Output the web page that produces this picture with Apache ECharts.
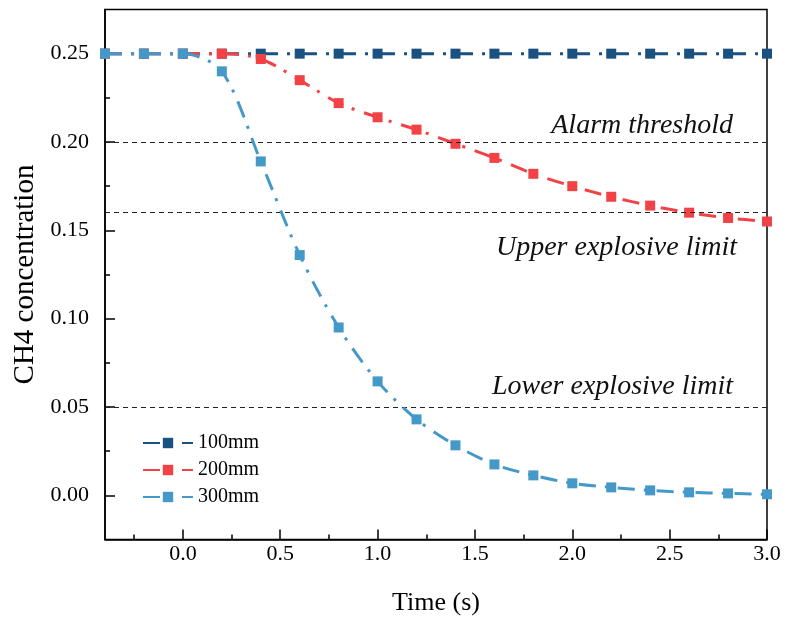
<!DOCTYPE html>
<html><head><meta charset="utf-8">
<script src="https://cdn.jsdelivr.net/npm/echarts@6/dist/echarts.min.js"></script>
<style>html,body{margin:0;padding:0;background:#fff}#c{width:786px;height:623px}</style>
</head><body><div id="c"></div>
<script>
const times = [-0.4,-0.2,0.0,0.2,0.4,0.6,0.8,1.0,1.2,1.4,1.6,1.8,2.0,2.2,2.4,2.6,2.8,3.0];
const s100 = [0.25,0.25,0.25,0.25,0.25,0.25,0.25,0.25,0.25,0.25,0.25,0.25,0.25,0.25,0.25,0.25,0.25,0.25];
const s200 = [0.25,0.25,0.25,0.25,0.247,0.235,0.222,0.214,0.207,0.199,0.191,0.182,0.175,0.169,0.164,0.160,0.157,0.155];
const s300 = [0.25,0.25,0.25,0.240,0.189,0.136,0.095,0.0645,0.043,0.0283,0.0175,0.0113,0.0068,0.0045,0.0028,0.0017,0.0011,0.0006];
const seriesNames = ['100mm','200mm','300mm'];
const seriesColors = ['#1a5180','#f24245','#4599c8'];
const xMajor = [0.0,0.5,1.0,1.5,2.0,2.5,3.0];
const xMinor = [-0.25,0.25,0.75,1.25,1.75,2.25,2.75];
const yMajor = [0.00,0.05,0.10,0.15,0.20,0.25];
const yMinor = [0.025,0.075,0.125,0.175,0.225];
const thresholds = [0.20,0.16,0.05];
const thresholdLabels = ['Alarm threshold','Upper explosive limit','Lower explosive limit'];

const serif = 'Liberation Serif';
const chart = echarts.init(document.getElementById('c'));
const values = [s100,s200,s300];
const dash = [17,9,3,10];

const series = values.map((v,i)=>({
  name: seriesNames[i],
  type: 'line',
  xAxisIndex: 0, yAxisIndex: 0,
  data: times.map((t,j)=>[t,v[j]]),
  symbol: 'rect',
  symbolSize: 10,
  smooth: 0.3,
  color: seriesColors[i],
  itemStyle: {color: seriesColors[i]},
  lineStyle: {color: seriesColors[i], width: 3, type: dash, cap: 'butt'},
  z: 3 + i,
  animation: false
}));
const labelDist = [[34,2],[30,21],[34,6]];
series[0].markLine = {
  silent: true,
  symbol: 'none',
  animation: false,
  lineStyle: {color: '#222', width: 1, type: [5,4]},
  data: thresholds.map((y,i)=>({
    yAxis: y,
    label: {
      show: true,
      formatter: thresholdLabels[i],
      position: i===1 ? 'insideEndBottom' : 'insideEndTop',
      distance: labelDist[i],
      fontFamily: serif, fontStyle: 'italic', fontSize: 28, color: '#111'
    }
  }))
};

const axisLineStyle = {show: true, onZero: false, lineStyle: {color: '#000', width: 1.5}};
chart.setOption({
  backgroundColor: '#fff',
  animation: false,
  grid: {left: 105, right: 19, top: 9.5, bottom: 83.5, show: true, borderColor: '#000', borderWidth: 1.5, containLabel: false},
  legend: {
    data: seriesNames,
    left: 137, top: 428, orient: 'vertical',
    itemWidth: 50, itemHeight: 13, itemGap: 7,
    textStyle: {fontFamily: serif, fontSize: 20, color: '#000'}
  },
  xAxis: [
    {type: 'value', min: -0.4, max: 3.0, position: 'bottom',
     name: 'Time (s)', nameLocation: 'middle', nameGap: 51,
     nameTextStyle: {fontFamily: serif, fontSize: 26, color: '#000'},
     axisLine: axisLineStyle,
     axisTick: {show: true, inside: true, length: 10, customValues: xMajor, lineStyle: {color: '#000', width: 1.5}},
     axisLabel: {show: true, customValues: xMajor, formatter: v=>v.toFixed(1), fontFamily: serif, fontSize: 22, color: '#000', margin: 4},
     splitLine: {show: false}},
    {type: 'value', min: -0.4, max: 3.0, position: 'bottom',
     axisLine: {show: false, onZero: false},
     axisTick: {show: true, inside: true, length: 5, customValues: xMinor, lineStyle: {color: '#000', width: 1.5}},
     axisLabel: {show: false}, splitLine: {show: false}}
  ],
  yAxis: [
    {type: 'value', min: -0.025, max: 0.275, position: 'left',
     name: 'CH4 concentration', nameLocation: 'middle', nameGap: 62,
     nameTextStyle: {fontFamily: serif, fontSize: 29, color: '#000'},
     axisLine: axisLineStyle,
     axisTick: {show: true, inside: true, length: 10, customValues: yMajor, lineStyle: {color: '#000', width: 1.5}},
     axisLabel: {show: true, customValues: yMajor, formatter: v=>v.toFixed(2), fontFamily: serif, fontSize: 22, color: '#000', margin: 16},
     splitLine: {show: false}},
    {type: 'value', min: -0.025, max: 0.275, position: 'left',
     axisLine: {show: false, onZero: false},
     axisTick: {show: true, inside: true, length: 5, customValues: yMinor, lineStyle: {color: '#000', width: 1.5}},
     axisLabel: {show: false}, splitLine: {show: false}}
  ],
  series: series
});
</script></body></html>
